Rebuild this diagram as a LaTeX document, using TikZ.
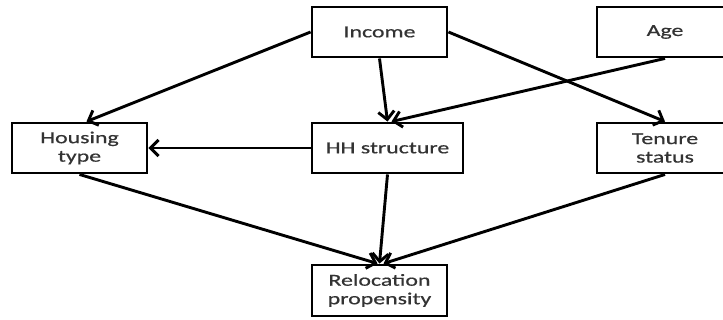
\documentclass[tikz,border=0pt]{standalone}
\usepackage{fontspec}
\setmainfont{Carlito}[FakeStretch=1.42,FakeBold=0.6]
\usetikzlibrary{arrows.meta}
\begin{document}
\begin{tikzpicture}[x=1pt,y=-1pt,
  box/.style={draw=black,line width=2.9pt,fill=white,inner sep=0pt,
    align=center,text=black!80,font=\fontsize{16.8}{18.5}\selectfont},
  link/.style={line width=2.9pt,-{Straight Barb[length=8pt,width=16pt,line width=2.9pt]}}]
  \clip (0,0) rectangle (723,320);
  \fill[white] (0,0) rectangle (723,320);

  % variables
  \node[box,minimum width=135pt,minimum height=50pt] (inc) at (379.5,32) {Income};
  \node[box,minimum width=136pt,minimum height=50pt] (age) at (665,32) {Age};
  \node[box,minimum width=135pt,minimum height=50pt] (hou) at (79.5,148) {Housing\\type};
  \node[box,minimum width=151pt,minimum height=50pt] (hhs) at (387.5,148) {HH structure};
  \node[box,minimum width=136pt,minimum height=50pt] (ten) at (665,148) {Tenure\\status};
  \node[box,minimum width=135pt,minimum height=51pt] (rel) at (379.5,290.5) {Relocation\\propensity};

  % causal links
  \draw[link] (inc.west) -- ([xshift=7pt]hou.north);
  \draw[link] (inc.south) -- (hhs.north);
  \draw[link] (inc.east) -- (ten.north);
  \draw[link] (age.south) -- ([xshift=4pt]hhs.north);
  \draw[link] (hhs.west) -- (hou.east);
  \draw[link] (hou.south) -- ([xshift=-2pt]rel.north);
  \draw[link] (hhs.south) -- (rel.north);
  \draw[link] (ten.south) -- ([xshift=4pt]rel.north);
\end{tikzpicture}
\end{document}
